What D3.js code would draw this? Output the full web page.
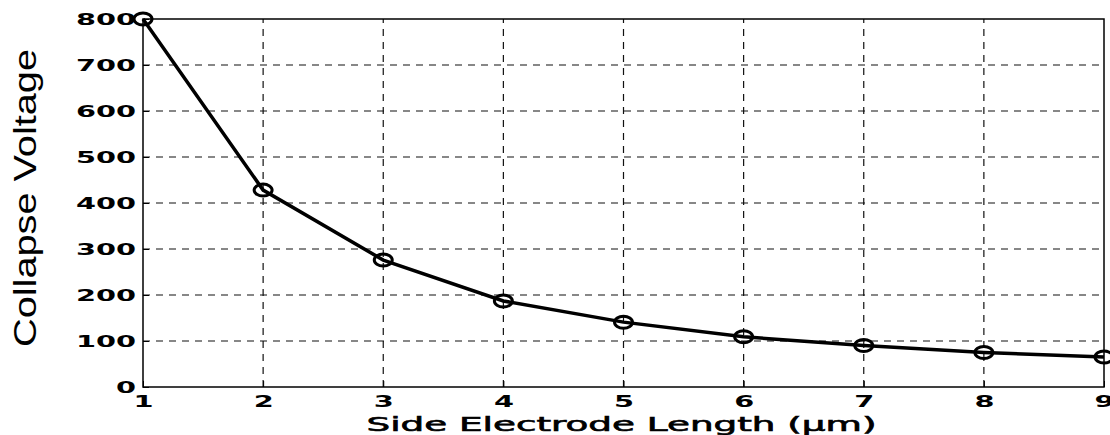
<!DOCTYPE html>
<html>
<head>
<meta charset="utf-8">
<script src="https://cdnjs.cloudflare.com/ajax/libs/d3/7.8.5/d3.min.js"></script>
<style>
  body { margin: 0; background: #fff; }
  svg { display: block; }
</style>
</head>
<body>
<script>
// data
var lengths = [1, 2, 3, 4, 5, 6, 7, 8, 9];
var voltages = [800, 428, 276, 187, 141, 109, 90, 75, 65];
var yTicks = [0, 100, 200, 300, 400, 500, 600, 700, 800];
var xTicks = [1, 2, 3, 4, 5, 6, 7, 8, 9];

function init() {
    var w = 1110;
    var h = 435;
    var m = { top: 19, right: 6, bottom: 48, left: 143 };

    var svg = d3.select("body")
        .append("svg")
        .attr("width", w)
        .attr("height", h);

    var x = d3.scaleLinear().domain([1, 9]).range([m.left, w - m.right]);
    var y = d3.scaleLinear().domain([0, 800]).range([h - m.bottom, m.top]);

    //grid
    var grid = svg.append("g").attr("class", "grid");
    grid.selectAll("line.gx")
        .data(xTicks.slice(1, -1))
        .enter()
        .append("line")
        .attr("x1", d => x(d)).attr("x2", d => x(d))
        .attr("y1", y(0)).attr("y2", y(800))
        .attr("stroke", "#111")
        .attr("stroke-width", 1.2)
        .attr("stroke-dasharray", "7,6");
    grid.selectAll("line.gy")
        .data(yTicks.slice(1, -1))
        .enter()
        .append("line")
        .attr("x1", x(1)).attr("x2", x(9))
        .attr("y1", d => y(d)).attr("y2", d => y(d))
        .attr("stroke", "#111")
        .attr("stroke-width", 1.2)
        .attr("stroke-dasharray", "7,6");

    //frame
    svg.append("rect")
        .attr("x", x(1)).attr("y", y(800))
        .attr("width", x(9) - x(1)).attr("height", y(0) - y(800))
        .attr("fill", "none")
        .attr("stroke", "#000")
        .attr("stroke-width", 1.5);

    //axes
    var yAxis = svg.append("g")
        .attr("transform", "translate(" + x(1) + ",0)")
        .call(d3.axisLeft(y).tickValues(yTicks).tickSizeInner(-6).tickSizeOuter(0).tickPadding(7));
    var xAxis = svg.append("g")
        .attr("transform", "translate(0," + y(0) + ")")
        .call(d3.axisBottom(x).tickValues(xTicks).tickSizeInner(-6).tickSizeOuter(0));
    svg.selectAll(".domain").remove();
    svg.selectAll(".tick line").attr("stroke", "#000");
    svg.selectAll(".tick text")
        .attr("fill", "#000")
        .style("font-family", "'DejaVu Sans', sans-serif")
        .style("font-weight", "bold")
        .style("font-size", "15px")
        .attr("lengthAdjust", "spacingAndGlyphs")
        .attr("textLength", d => String(d).length * 20);
    yAxis.selectAll(".tick text").attr("dy", "0.38em");
    xAxis.selectAll(".tick text").attr("y", 20).attr("dy", 0);

    //line
    var line = d3.line()
        .x((d, i) => x(lengths[i]))
        .y(d => y(d));
    svg.append("path")
        .datum(voltages)
        .attr("fill", "none")
        .attr("stroke", "#000")
        .attr("stroke-width", 3.5)
        .attr("d", line);

    //markers
    svg.selectAll("ellipse.pt")
        .data(voltages)
        .enter()
        .append("ellipse")
        .attr("class", "pt")
        .attr("cx", (d, i) => x(lengths[i]))
        .attr("cy", d => y(d))
        .attr("rx", 9)
        .attr("ry", 6)
        .attr("fill", "none")
        .attr("stroke", "#000")
        .attr("stroke-width", 3);

    //labels
    svg.append("text")
        .attr("transform", "translate(36,198) rotate(-90)")
        .attr("text-anchor", "middle")
        .style("font-family", "'Liberation Sans', Arial, sans-serif")
        .style("font-size", "32px")
        .attr("lengthAdjust", "spacingAndGlyphs")
        .attr("textLength", 298)
        .text("Collapse Voltage");
    svg.append("text")
        .attr("x", (x(1) + x(9)) / 2 - 2)
        .attr("y", 431)
        .attr("text-anchor", "middle")
        .style("font-family", "'DejaVu Sans', sans-serif")
        .style("font-size", "19px")
        .attr("stroke", "#000")
        .attr("stroke-width", 0.6)
        .attr("lengthAdjust", "spacingAndGlyphs")
        .attr("textLength", 510)
        .text("Side Electrode Length (\u00b5m)");
}
window.onload = init;
</script>
</body>
</html>
